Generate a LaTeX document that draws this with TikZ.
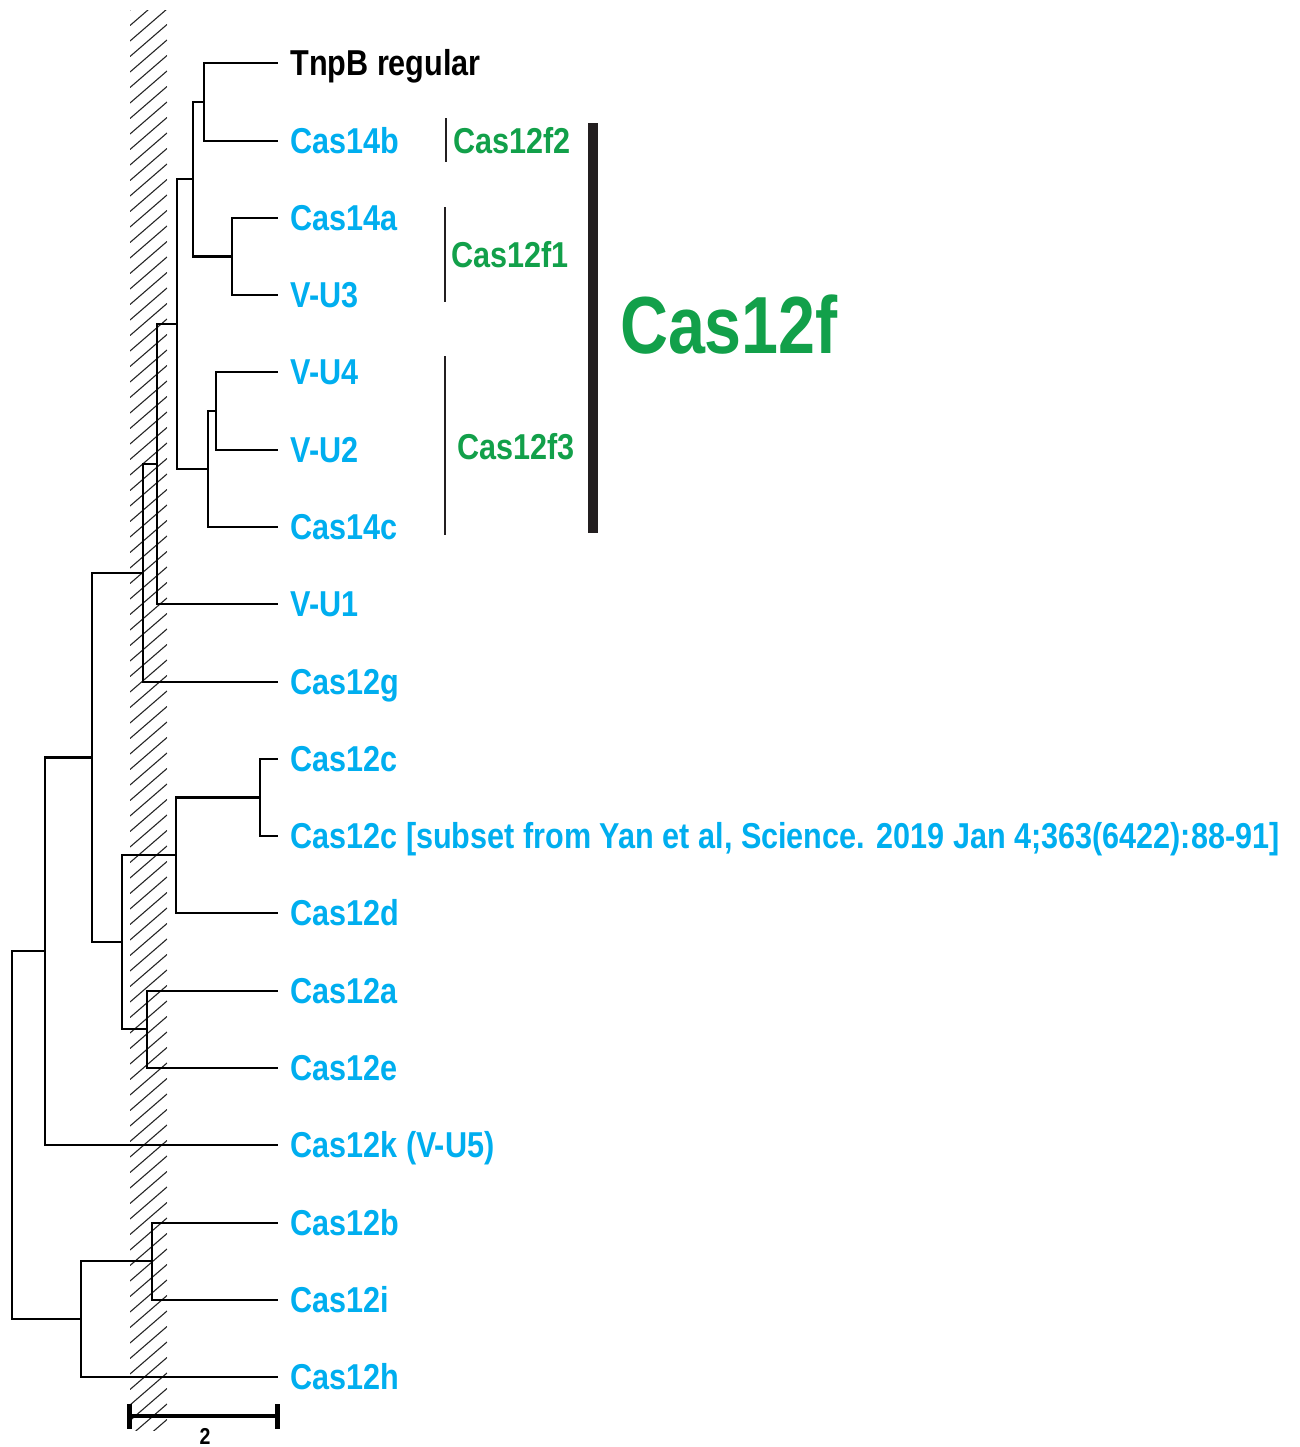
\documentclass[tikz,border=0pt]{standalone}
\usepackage{fontspec}
\setmainfont{Liberation Sans}[FakeStretch=0.85]
\newfontfamily\bigfont{Liberation Sans}[FakeStretch=0.82]
\usetikzlibrary{calc}
\definecolor{cyanlab}{RGB}{0,174,239}
\definecolor{greenlab}{RGB}{18,160,74}
\definecolor{bardark}{RGB}{35,31,32}
\begin{document}
\begin{tikzpicture}[x=0.5pt,y=-0.5pt,
  branch/.style={line width=1.1pt, black, line cap=rect},
  lab/.style={font=\fontsize{18pt}{21pt}\selectfont\bfseries, text=cyanlab, inner sep=0pt, anchor=base west},
  blacklab/.style={lab, text=black},
  sublab/.style={font=\fontsize{18pt}{21pt}\selectfont\bfseries, text=greenlab, inner sep=0pt, anchor=base},
  thinbar/.style={line width=0.8pt, bardark},
  hatchline/.style={line width=0.55pt, black!85}
]
\useasboundingbox (0,0) rectangle (1300,1447);
% hatched band
\begin{scope}
  \clip (130,10) rectangle (167,1430);
  \foreach \k in {0,...,95} {
    \draw[hatchline] (130,{10+15.5*\k}) -- (167,{10+15.5*\k-32});
  }
\end{scope}
% leaf tips
\coordinate (l1) at (277,63);
\coordinate (l2) at (277,141);
\coordinate (l3) at (277,218);
\coordinate (l4) at (277,295);
\coordinate (l5) at (277,372);
\coordinate (l6) at (277,450);
\coordinate (l7) at (277,527);
\coordinate (l8) at (277,604);
\coordinate (l9) at (277,682);
\coordinate (l10) at (277,759);
\coordinate (l11) at (277,836);
\coordinate (l12) at (277,913);
\coordinate (l13) at (277,991);
\coordinate (l14) at (277,1068);
\coordinate (l15) at (277,1145);
\coordinate (l16) at (277,1223);
\coordinate (l17) at (277,1300);
\coordinate (l18) at (277,1377);
% internal nodes
\coordinate (nA) at (204,102);
\coordinate (nB) at (232,256.5);
\coordinate (nC) at (193,179);
\coordinate (nD) at (216,411);
\coordinate (nE) at (208,469);
\coordinate (nF) at (177,324);
\coordinate (nG) at (157,464);
\coordinate (nH) at (143,573);
\coordinate (nI) at (260,797.5);
\coordinate (nJ) at (176,855);
\coordinate (nK) at (147,1029);
\coordinate (nL) at (122,942);
\coordinate (nM) at (92,757.5);
\coordinate (nN) at (45,951);
\coordinate (nO) at (152,1261);
\coordinate (nP) at (81,1319);
\coordinate (nR) at (12,1135);
% branches
\draw[branch] (nA) |- (l1) (nA) |- (l2);
\draw[branch] (nB) |- (l3) (nB) |- (l4);
\draw[branch] (nC) |- (nA) (nC) |- (nB);
\draw[branch] (nD) |- (l5) (nD) |- (l6);
\draw[branch] (nE) |- (nD) (nE) |- (l7);
\draw[branch] (nF) |- (nC) (nF) |- (nE);
\draw[branch] (nG) |- (nF) (nG) |- (l8);
\draw[branch] (nH) |- (nG) (nH) |- (l9);
\draw[branch] (nI) |- (l10) (nI) |- (l11);
\draw[branch] (nJ) |- (nI) (nJ) |- (l12);
\draw[branch] (nK) |- (l13) (nK) |- (l14);
\draw[branch] (nL) |- (nJ) (nL) |- (nK);
\draw[branch] (nM) |- (nH) (nM) |- (nL);
\draw[branch] (nN) |- (nM) (nN) |- (l15);
\draw[branch] (nO) |- (l16) (nO) |- (l17);
\draw[branch] (nP) |- (nO) (nP) |- (l18);
\draw[branch] (nR) |- (nN) (nR) |- (nP);
% leaf labels
\node[blacklab] (t1) at ($(l1)+(13,12.5)$) {TnpB regular};
\node[lab] (t2) at ($(l2)+(13,12.5)$) {Cas14b};
\node[lab] (t3) at ($(l3)+(13,12.5)$) {Cas14a};
\node[lab] (t4) at ($(l4)+(13,12.5)$) {V-U3};
\node[lab] (t5) at ($(l5)+(13,12.5)$) {V-U4};
\node[lab] (t6) at ($(l6)+(13,12.5)$) {V-U2};
\node[lab] (t7) at ($(l7)+(13,12.5)$) {Cas14c};
\node[lab] (t8) at ($(l8)+(13,12.5)$) {V-U1};
\node[lab] (t9) at ($(l9)+(13,12.5)$) {Cas12g};
\node[lab] (t10) at ($(l10)+(13,12.5)$) {Cas12c};
\node[lab] (t11) at ($(l11)+(13,12.5)$) {Cas12c [subset from Yan et al, Science. 2019 Jan 4;363(6422):88-91]};
\node[lab] (t12) at ($(l12)+(13,12.5)$) {Cas12d};
\node[lab] (t13) at ($(l13)+(13,12.5)$) {Cas12a};
\node[lab] (t14) at ($(l14)+(13,12.5)$) {Cas12e};
\node[lab] (t15) at ($(l15)+(13,12.5)$) {Cas12k (V-U5)};
\node[lab] (t16) at ($(l16)+(13,12.5)$) {Cas12b};
\node[lab] (t17) at ($(l17)+(13,12.5)$) {Cas12i};
\node[lab] (t18) at ($(l18)+(13,12.5)$) {Cas12h};
% subgroup bars and labels
\coordinate (b2a) at (446,118); \coordinate (b2b) at (446,162);
\coordinate (b1a) at (445,207); \coordinate (b1b) at (445,302);
\coordinate (b3a) at (445,356); \coordinate (b3b) at (445,535);
\draw[thinbar] (b2a) -- (b2b);
\draw[thinbar] (b1a) -- (b1b);
\draw[thinbar] (b3a) -- (b3b);
\node[sublab] (g2) at (512,153) {Cas12f2};
\node[sublab] (g1) at (510,267) {Cas12f1};
\node[sublab] (g3) at (516,459) {Cas12f3};
\coordinate (bfa) at (593,123); \coordinate (bfb) at (593,533);
\draw[line width=5pt, bardark] (bfa) -- (bfb);
\node[font=\bigfont\fontsize{40.5pt}{44pt}\selectfont\bfseries, text=greenlab, inner sep=0pt, anchor=base] (big) at (729,353) {Cas12f};
% scale bar
\coordinate (sa) at (129.5,1416); \coordinate (sb) at (277,1416);
\draw[line width=1.8pt] (sa) -- (sb);
\draw[line width=2.5pt] ($(sa)+(0,-12)$) -- ($(sa)+(0,13)$);
\draw[line width=2.5pt] ($(sb)+(0,-12)$) -- ($(sb)+(0,13)$);
\node[font=\fontsize{11.5pt}{13pt}\selectfont\bfseries, inner sep=0pt, anchor=base] (sl) at (205,1444) {2};
\end{tikzpicture}
\end{document}
